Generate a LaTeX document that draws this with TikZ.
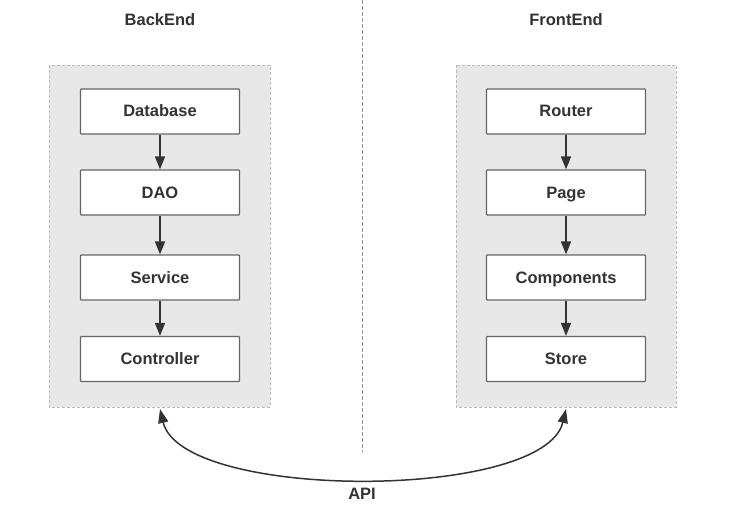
\documentclass[tikz,border=0pt]{standalone}
\usepackage{fontspec}
\setmainfont{Liberation Sans}
\usetikzlibrary{arrows.meta}
\definecolor{txt}{HTML}{333333}
\definecolor{boxline}{HTML}{666666}
\definecolor{panel}{HTML}{E8E8E8}
\definecolor{panelline}{HTML}{BBBBBB}
\begin{document}
\begin{tikzpicture}[x=1pt,y=-1pt,
  panelbox/.style={draw=panelline,fill=panel,dashed,dash pattern=on 3pt off 2pt,line width=0.9pt},
  layerbox/.style={draw=boxline,fill=white,line width=1.2pt,minimum width=159pt,minimum height=45pt,inner sep=0pt,
    text height=14pt,text depth=3pt,
    font=\fontsize{16.5}{18}\selectfont\bfseries,text=txt,rounded corners=0.8pt},
  title/.style={font=\fontsize{16.5}{18}\selectfont\bfseries,text=txt,text height=14pt,text depth=3pt},
  flow/.style={draw=txt,line width=1.5pt,-{Triangle[length=13pt,width=10pt]}},
  api/.style={draw=txt,line width=1.5pt,{Triangle[length=14pt,width=10pt]}-{Triangle[length=14pt,width=10pt]}}]
\useasboundingbox (0,0) rectangle (751,505);
\fill[white] (0,0) rectangle (751,505);
% divider
\draw[panelline!80!black,dashed,dash pattern=on 4pt off 2pt,line width=1pt] (362,0) -- (362,452);
% panels
\path[panelbox] (49,65) rectangle (270,407);
\path[panelbox] (456,65) rectangle (676,407);
\node[title] (tb) at (160,20) {BackEnd};
\node[title] (tf) at (566,20) {FrontEnd};
% backend
\node[layerbox] (db) at (160,111.5) {Database};
\node[layerbox] (dao) at (160,192.5) {DAO};
\node[layerbox] (svc) at (160,277.5) {Service};
\node[layerbox] (ctl) at (160,359) {Controller};
% frontend
\node[layerbox] (rt) at (566,111.5) {Router};
\node[layerbox] (pg) at (566,192.5) {Page};
\node[layerbox] (cp) at (566,277.5) {Components};
\node[layerbox] (st) at (566,359) {Store};
\draw[flow] (db) -- (dao);
\draw[flow] (dao) -- (svc);
\draw[flow] (svc) -- (ctl);
\draw[flow] (rt) -- (pg);
\draw[flow] (pg) -- (cp);
\draw[flow] (cp) -- (st);
% API
\coordinate (la) at (160,409);
\coordinate (ra) at (566,409);
\draw[api] (la) .. controls (182,501) and (544,501) .. (ra);
\node[title] (apil) at (362,494) {API};
\end{tikzpicture}
\end{document}
